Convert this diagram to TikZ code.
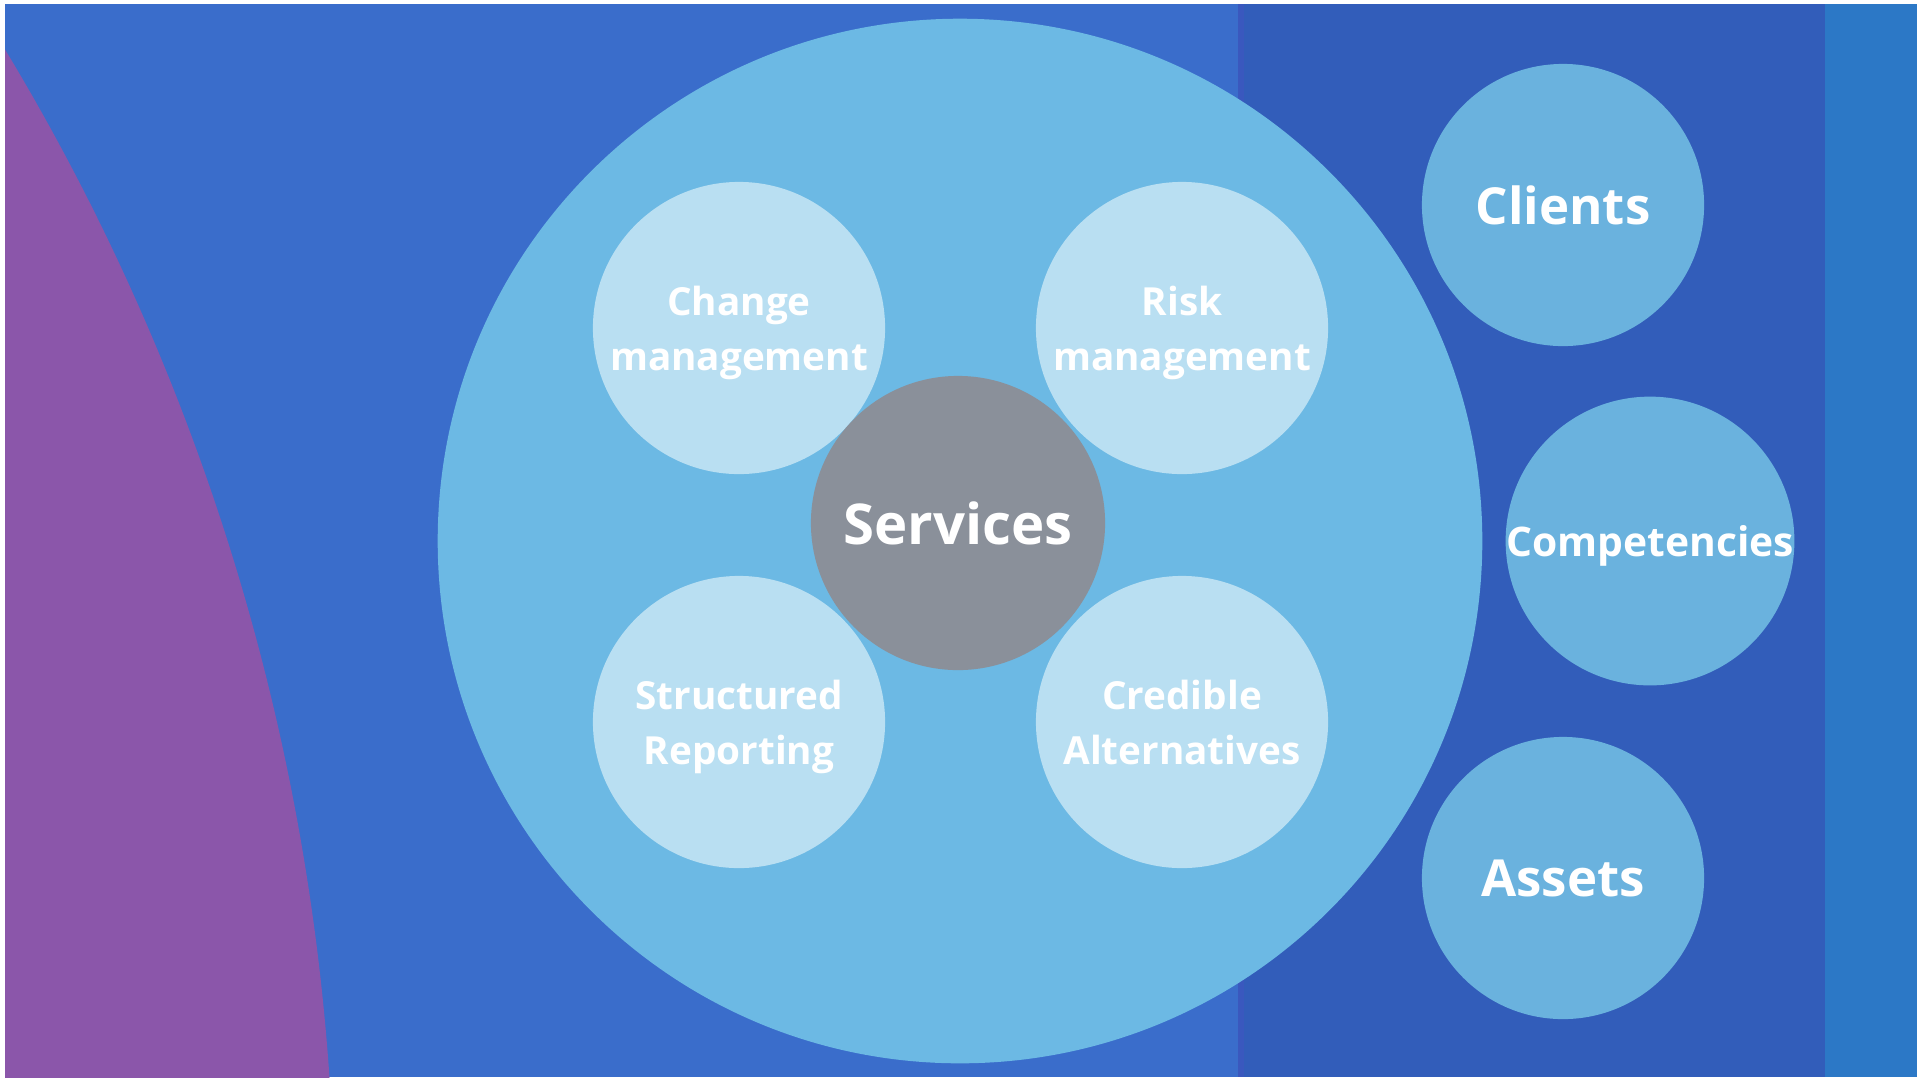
\documentclass[tikz,border=0pt]{standalone}
\usepackage{fontspec}
\setmainfont{Open Sans}
\usetikzlibrary{shapes,positioning,backgrounds}
\usepackage{xcolor}
\definecolor{slideblue}{RGB}{58,109,203}
\definecolor{bandblue}{RGB}{50,93,186}
\definecolor{seamblue}{RGB}{58,88,190}
\definecolor{edgeblue}{RGB}{44,120,198}
\definecolor{arcpurple}{RGB}{139,86,170}
\definecolor{poolblue}{RGB}{108,185,228}
\definecolor{topicblue}{RGB}{185,223,242}
\definecolor{hubgrey}{RGB}{138,144,154}
\definecolor{sideblue}{RGB}{106,178,222}

\begin{document}
\begin{tikzpicture}[x=0.01cm, y=-0.01cm,
    pool/.style={circle, fill=poolblue, minimum size=10.44cm, inner sep=0pt},
    topic/.style={circle, fill=topicblue, minimum size=2.92cm, inner sep=0pt,
        text depth=0pt, text=white, align=center,
        font=\fontsize{11}{15.6}\selectfont\bfseries},
    hub/.style={circle, fill=hubgrey, minimum size=2.94cm, inner sep=0pt,
        text=white, font=\fontsize{16}{19}\selectfont\bfseries},
    side/.style={circle, fill=sideblue, minimum size=2.82cm, inner sep=0pt,
        text depth=0pt, text=white, font=\fontsize{14.5}{17}\selectfont\bfseries}]
    % Slide frame
    \fill[white] (0,0) rectangle (1925,1078);
    \useasboundingbox (0,0) rectangle (1925,1078);

    % Background bands
    \begin{scope}
        \clip (5,4) rectangle (1917,1077);
        \fill[slideblue] (5,4) rectangle (1240,1077);
        \fill[bandblue] (1240,4) rectangle (1825,1077);
        \fill[edgeblue] (1825,4) rectangle (1917,1077);
        \fill[seamblue] (1238,4) rectangle (1244,1077);
        % Purple arc (left)
        \fill[arcpurple] (-1968,1238) circle (2303);
    \end{scope}

    % Outer circle
    \node[pool] (pool) at (960,541) {};

    % Topics inside
    \node[topic] (change) at (739,328) {Change\\management};
    \node[topic] (risk) at (1182,328) {Risk\\management};
    \node[topic] (report) at (739,722) {Structured\\Reporting};
    \node[topic] (alt) at (1182,722) {Credible\\Alternatives};

    % Centre
    \node[hub] (services) at (958,523) {Services};

    % Right column
    \node[side] (clients) at (1563,205) {Clients};
    \node[side, font=\fontsize{11.6}{14}\selectfont\bfseries] (comp) at (1650,541) {Competencies};
    \node[side] (assets) at (1563,878) {Assets};
\end{tikzpicture}
\end{document}
